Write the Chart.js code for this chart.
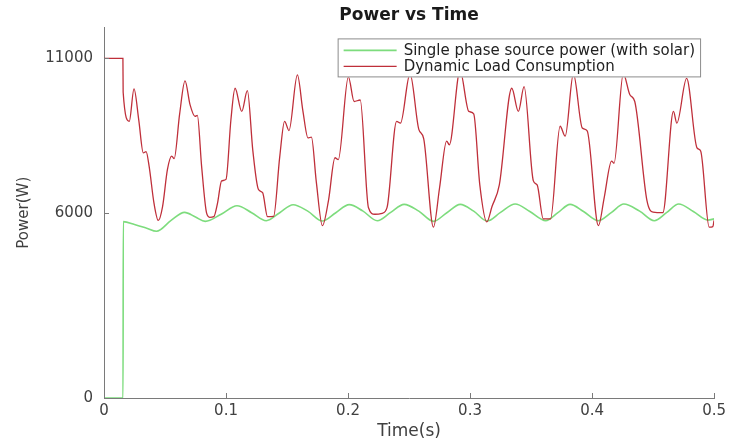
<!DOCTYPE html>
<html>
<head>
<meta charset="utf-8">
<title>Power vs Time</title>
<script src="https://cdn.jsdelivr.net/npm/chart.js@4.4.1/dist/chart.umd.min.js"></script>
<style>
  html, body { margin: 0; padding: 0; background: #fff; }
  #wrap { width: 730px; height: 443px; }
</style>
</head>
<body>
<div id="wrap"><canvas id="chart"></canvas></div>
<script>
// Values (time in s, power in W)
const sourceTime = [0, 0.0156, 0.0158, 0.025, 0.035, 0.043, 0.055, 0.066, 0.075, 0.083, 0.096, 0.109, 0.121, 0.133,
  0.144, 0.155, 0.167, 0.179, 0.190, 0.201, 0.212, 0.224, 0.235, 0.246, 0.258, 0.270, 0.281, 0.292, 0.303, 0.314,
  0.325, 0.337, 0.349, 0.362, 0.372, 0.382, 0.393, 0.405, 0.416, 0.426, 0.439, 0.451, 0.461, 0.471, 0.483, 0.495, 0.500]
const sourcePower = [0, 0, 5710, 5620, 5500, 5400, 5750, 6010, 5860, 5720, 5950, 6225, 6000, 5740,
  6000, 6257, 6050, 5730, 6000, 6260, 6060, 5740, 6010, 6270, 6050, 5720, 6000, 6270, 6050, 5730,
  6010, 6280, 6040, 5740, 6000, 6270, 6040, 5740, 6010, 6280, 6050, 5740, 6000, 6280, 6040, 5760, 5800]

const loadTime = [0, 0.0155, 0.0157, 0.0207, 0.0246, 0.0285, 0.0322, 0.0345, 0.0370, 0.0410, 0.0445, 0.0480,
  0.0520, 0.0555, 0.0575, 0.0620, 0.0664, 0.0705, 0.0746, 0.0765, 0.0800, 0.0840, 0.0866, 0.0900, 0.0930,
  0.0964, 0.1000, 0.1040, 0.1074, 0.1129, 0.1175, 0.1220, 0.1265, 0.1300, 0.1340, 0.1390, 0.1440, 0.1480,
  0.1516, 0.1585, 0.1630, 0.1672, 0.1700, 0.1740, 0.1790, 0.1840, 0.1893, 0.1920, 0.2003, 0.2050, 0.2100,
  0.2167, 0.2220, 0.2280, 0.2320, 0.2398, 0.2430, 0.2508, 0.2580, 0.2620, 0.2700, 0.2750, 0.2808, 0.2830,
  0.2918, 0.2990, 0.3030, 0.3080, 0.3137, 0.3180, 0.3240, 0.3342, 0.3396, 0.3443, 0.3519, 0.3550, 0.3600,
  0.3660, 0.3738, 0.3780, 0.3847, 0.3920, 0.3960, 0.4052, 0.4100, 0.4160, 0.4180, 0.4256, 0.4310, 0.4350,
  0.4450, 0.4500, 0.4580, 0.4667, 0.4695, 0.4775, 0.4860, 0.4890, 0.4960, 0.4990, 0.5000]
const loadPower = [11000, 11000, 9900, 8960, 10010, 9000, 7940, 7980, 7500, 6300, 5750, 6200,
  7400, 7830, 7750, 9200, 10270, 9500, 9120, 9150, 7500, 6000, 5850, 5870, 6300,
  7030, 7080, 9000, 10030, 9280, 9950, 8000, 6760, 6650, 5870, 5880, 7800, 8960,
  8660, 10460, 9300, 8420, 8450, 7000, 5580, 6400, 7780, 7720, 10400, 9600, 9650,
  6170, 5950, 5980, 6170, 8960, 8900, 10500, 8700, 8400, 5530, 6800, 8320, 8200,
  10600, 9280, 9200, 6900, 5700, 6200, 6900, 10030, 9280, 10080, 7030, 6900, 5800,
  5800, 8800, 8480, 10500, 8740, 8650, 5580, 6500, 7670, 7600, 10500, 9820, 9600,
  6390, 6020, 6000, 9280, 8900, 10350, 8100, 8000, 5530, 5550, 5750]

const seriesNames = ["Single phase source power (with solar)", "Dynamic Load Consumption"]
const xTicks = [0, 0.1, 0.2, 0.3, 0.4, 0.5]
const xTickLabels = ["0", "0.1", "0.2", "0.3", "0.4", "0.5"]
const yTicks = [0, 6000, 11000]
const yTickLabels = ["0", "6000", "11000"]

const AXIS_COLOR = "#7a7a7a"
const TEXT_COLOR = "#404040"
const FONT = "'DejaVu Sans', 'Liberation Sans', sans-serif"

// MATLAB-style legend: white box with border, drawn inside the axes (top right)
const boxLegend = {
  id: "boxLegend",
  afterDatasetsDraw(chart) {
    const { ctx, chartArea } = chart
    const sets = chart.data.datasets
    ctx.save()
    ctx.font = "15px " + FONT
    const textW = Math.max(...sets.map(d => ctx.measureText(d.label).width))
    const w = 66 + textW + 6
    const h = 39
    const left = chartArea.right - 13 - w
    const top = chartArea.top + 11
    ctx.fillStyle = "#fff"
    ctx.fillRect(left, top, w, h)
    ctx.strokeStyle = "#8c8c8c"
    ctx.lineWidth = 1
    ctx.strokeRect(left + 0.5, top + 0.5, w - 1, h - 1)
    sets.forEach((d, i) => {
      const y = top + 12 + i * 16
      ctx.strokeStyle = d.borderColor
      ctx.lineWidth = d.borderWidth
      ctx.beginPath()
      ctx.moveTo(left + 6, y)
      ctx.lineTo(left + 59, y)
      ctx.stroke()
      ctx.fillStyle = "#222"
      ctx.textBaseline = "middle"
      ctx.fillText(d.label, left + 66, y + 1)
    })
    ctx.restore()
  }
}

// Inward tick marks, like MATLAB axes
const innerTicks = {
  id: "innerTicks",
  afterDraw(chart) {
    const { ctx, chartArea, scales } = chart
    ctx.save()
    ctx.strokeStyle = AXIS_COLOR
    ctx.lineWidth = 1
    ctx.beginPath()
    xTicks.forEach(v => {
      const x = Math.round(scales.x.getPixelForValue(v)) + 0.5
      ctx.moveTo(x, chartArea.bottom)
      ctx.lineTo(x, chartArea.bottom - 5)
    })
    yTicks.forEach(v => {
      const y = Math.round(scales.y.getPixelForValue(v)) + 0.5
      ctx.moveTo(chartArea.left, y)
      ctx.lineTo(chartArea.left + 5, y)
    })
    ctx.stroke()
    ctx.restore()
  }
}

new Chart(document.getElementById("chart"), {
  type: "line",
  data: {
    datasets: [
      {
        label: seriesNames[0],
        data: sourceTime.map((t, i) => ({ x: t, y: sourcePower[i] })),
        borderColor: "#7ddc7d",
        borderWidth: 1.6,
        pointRadius: 0,
        cubicInterpolationMode: "monotone",
        order: 1
      },
      {
        label: seriesNames[1],
        data: loadTime.map((t, i) => ({ x: t, y: loadPower[i] })),
        borderColor: "#bf2f3a",
        borderWidth: 1.3,
        pointRadius: 0,
        cubicInterpolationMode: "monotone",
        order: 0
      }
    ]
  },
  options: {
    responsive: true,
    maintainAspectRatio: false,
    animation: false,
    layout: { padding: { left: 12, right: 15, top: 0, bottom: 0 } },
    scales: {
      x: {
        type: "linear",
        min: 0,
        max: 0.5,
        afterBuildTicks: axis => { axis.ticks = xTicks.map(v => ({ value: v })) },
        afterFit: axis => { axis.height = 45 },
        ticks: {
          color: TEXT_COLOR,
          font: { family: FONT, size: 15 },
          padding: 4,
          maxRotation: 0,
          callback: (v, i) => xTickLabels[i]
        },
        grid: { display: false, drawTicks: false },
        border: { display: true, color: AXIS_COLOR, width: 1 },
        title: {
          display: true,
          text: "Time(s)",
          color: TEXT_COLOR,
          font: { family: FONT, size: 17 },
          padding: { top: 0, bottom: 1 }
        }
      },
      y: {
        min: 0,
        max: 12000,
        afterBuildTicks: axis => { axis.ticks = yTicks.map(v => ({ value: v })) },
        afterFit: axis => { axis.width = 92 },
        ticks: {
          color: TEXT_COLOR,
          font: { family: FONT, size: 15 },
          padding: 11,
          callback: (v, i) => yTickLabels[i]
        },
        grid: { display: false, drawTicks: false },
        border: { display: true, color: AXIS_COLOR, width: 1 },
        title: {
          display: true,
          text: "Power(W)",
          color: TEXT_COLOR,
          font: { family: FONT, size: 15 },
          padding: { top: 3, bottom: 0 }
        }
      }
    },
    plugins: {
      legend: { display: false },
      tooltip: { enabled: false },
      title: {
        display: true,
        text: "Power vs Time",
        fullSize: false,
        color: "#1a1a1a",
        font: { family: FONT, size: 17, weight: "bold" },
        padding: { top: 5, bottom: 2 }
      }
    }
  },
  plugins: [boxLegend, innerTicks]
})
</script>
</body>
</html>
